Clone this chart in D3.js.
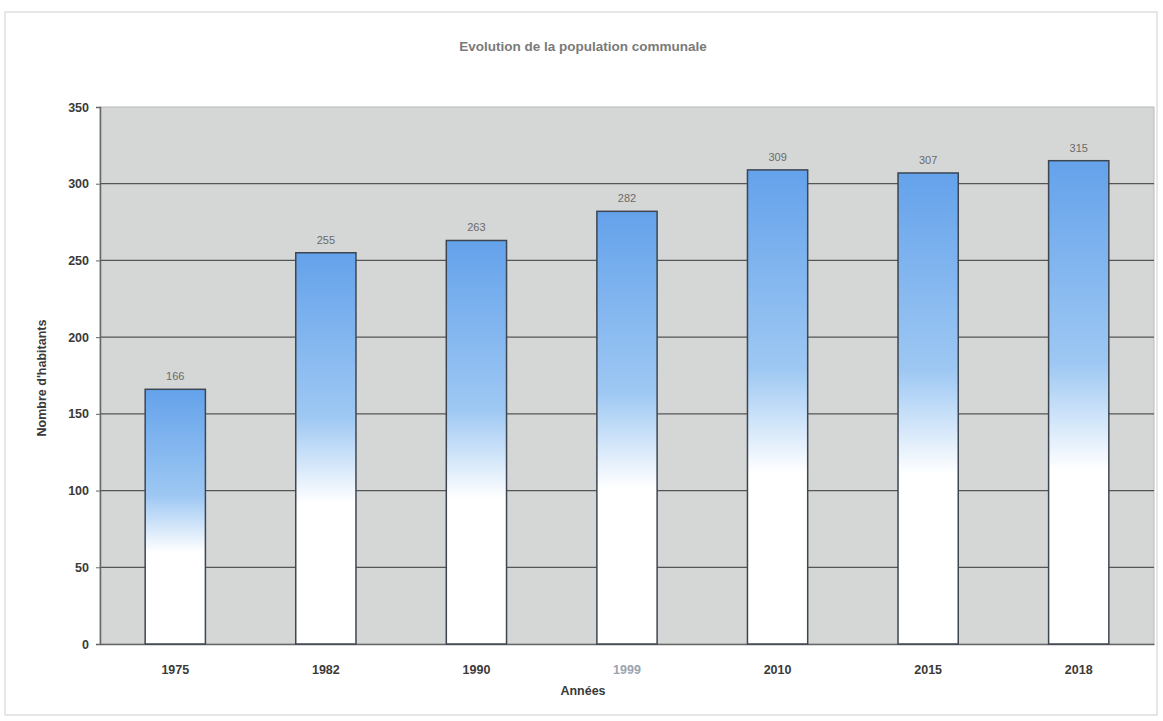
<!DOCTYPE html>
<html lang="fr">
<head>
<meta charset="UTF-8">
<title>Evolution de la population communale</title>
<script src="https://cdn.jsdelivr.net/npm/d3@7"></script>
<style>
  body { margin: 0; background: #fff; }
  text { font-family: "Liberation Sans", Arial, sans-serif; }
</style>
</head>
<body>
<script>
// data
const years = ["1975", "1982", "1990", "1999", "2010", "2015", "2018"];
const population = [166, 255, 263, 282, 309, 307, 315];
const yTicks = [0, 50, 100, 150, 200, 250, 300, 350];

const width = 1163, height = 721;
const margin = {top: 107, right: 9, bottom: 77, left: 100};

const svg = d3.select("body").append("svg")
    .attr("width", width)
    .attr("height", height);

// outer frame
svg.append("rect")
    .attr("x", 5).attr("y", 12)
    .attr("width", 1152).attr("height", 703)
    .attr("fill", "#fff")
    .attr("stroke", "#cfcfcf");

const x = d3.scaleBand()
    .domain(years)
    .range([margin.left, width - margin.right])
    .paddingInner(0.6)
    .paddingOuter(0.3);

const y = d3.scaleLinear()
    .domain([0, 350])
    .range([height - margin.bottom, margin.top]);

// gradient for bars
const grad = svg.append("defs").append("linearGradient")
    .attr("id", "barGrad")
    .attr("x1", 0).attr("y1", 0).attr("x2", 0).attr("y2", 1);
grad.append("stop").attr("offset", "0%").attr("stop-color", "#64a2eb");
grad.append("stop").attr("offset", "42%").attr("stop-color", "#9ec8f3");
grad.append("stop").attr("offset", "64%").attr("stop-color", "#ffffff");
grad.append("stop").attr("offset", "100%").attr("stop-color", "#ffffff");

// plot background
svg.append("rect")
    .attr("x", margin.left).attr("y", margin.top)
    .attr("width", width - margin.left - margin.right)
    .attr("height", height - margin.top - margin.bottom)
    .attr("fill", "#d5d7d7")
    .attr("stroke", "#b8baba");

// gridlines
svg.append("g")
    .selectAll("line")
    .data(yTicks.filter(d => d > 0 && d < 350))
    .join("line")
    .attr("x1", margin.left).attr("x2", width - margin.right)
    .attr("y1", d => y(d)).attr("y2", d => y(d))
    .attr("stroke", "#555")
    .attr("stroke-width", 1.3);

// y axis
const yAxis = svg.append("g")
    .attr("transform", `translate(${margin.left},0)`)
    .call(d3.axisLeft(y).tickValues(yTicks).tickSize(4).tickPadding(7));
yAxis.select(".domain").attr("stroke", "#666").attr("stroke-width", 1.5);
yAxis.selectAll(".tick line").attr("stroke", "#666");
yAxis.selectAll(".tick text")
    .attr("fill", "#3a3a3a")
    .attr("font-size", 12.5)
    .attr("font-weight", "bold");

// x axis
const xAxis = svg.append("g")
    .attr("transform", `translate(0,${height - margin.bottom})`)
    .call(d3.axisBottom(x).tickSize(0).tickPadding(21));
xAxis.select(".domain").attr("stroke", "#666").attr("stroke-width", 1.5);
xAxis.selectAll(".tick text")
    .attr("fill", d => d === "1999" ? "#9aa4b0" : "#3a3a3a")
    .attr("font-size", 12.5)
    .attr("font-weight", "bold");

// bars
svg.append("g")
    .selectAll("rect")
    .data(years)
    .join("rect")
    .attr("x", d => x(d))
    .attr("y", (d, i) => y(population[i]))
    .attr("width", x.bandwidth())
    .attr("height", (d, i) => y(0) - y(population[i]))
    .attr("fill", "url(#barGrad)")
    .attr("stroke", "#3d4650")
    .attr("stroke-width", 1.5);

// value labels
svg.append("g")
    .selectAll("text")
    .data(years)
    .join("text")
    .attr("x", d => x(d) + x.bandwidth() / 2)
    .attr("y", (d, i) => y(population[i]) - 9)
    .attr("text-anchor", "middle")
    .attr("font-size", 11)
    .attr("fill", "#6a6a6a")
    .text((d, i) => population[i]);

// titles
svg.append("text")
    .attr("x", 583).attr("y", 51)
    .attr("text-anchor", "middle")
    .attr("font-size", 13.5)
    .attr("font-weight", "bold")
    .attr("fill", "#7a7a7a")
    .text("Evolution de la population communale");

svg.append("text")
    .attr("x", 583).attr("y", 695)
    .attr("text-anchor", "middle")
    .attr("font-size", 12.5)
    .attr("font-weight", "bold")
    .attr("fill", "#3a3a3a")
    .text("Années");

svg.append("text")
    .attr("transform", "translate(46,378) rotate(-90)")
    .attr("text-anchor", "middle")
    .attr("font-size", 12.5)
    .attr("font-weight", "bold")
    .attr("fill", "#3a3a3a")
    .text("Nombre d'habitants");
</script>
</body>
</html>
